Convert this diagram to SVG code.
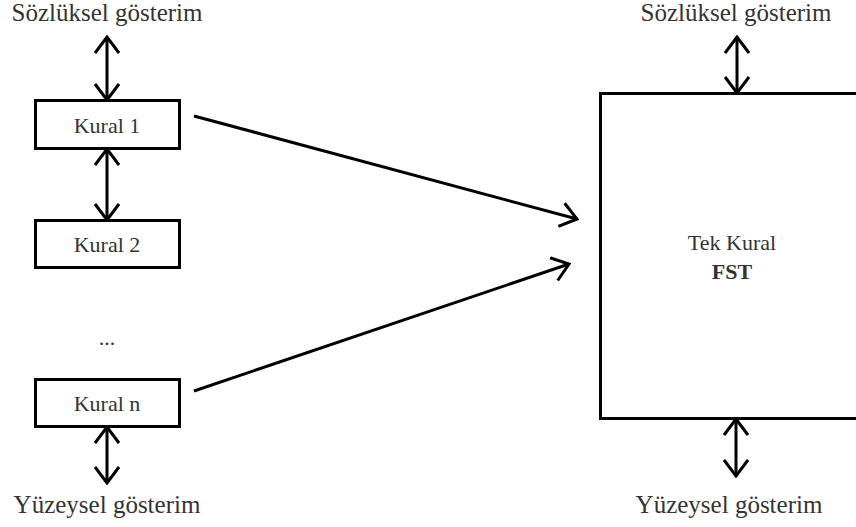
<svg xmlns="http://www.w3.org/2000/svg" width="856" height="527" viewBox="0 0 856 527">
  <style>
    .box { fill: #ffffff; stroke: #000000; stroke-width: 3; }
    .line { fill: none; stroke: #000000; stroke-width: 3; }
    .label { font-family: "Liberation Serif", "Times New Roman", serif; fill: #333333; text-anchor: middle; }
    .big { font-size: 25px; }
    .small { font-size: 22px; }
    .bold { font-weight: bold; }
  </style>
  <defs>
    <!-- open chevron arrowhead, used at both ends of the two-way links -->
    <marker id="chev" viewBox="0 0 20 26" refX="18" refY="13" markerWidth="20" markerHeight="26" markerUnits="userSpaceOnUse" orient="auto-start-reverse">
      <path d="M2,1 L18,13 L2,25" fill="none" stroke="#000" stroke-width="3"/>
    </marker>
  </defs>

  <!-- end-point labels -->
  <text class="label big" x="107" y="21">Sözlüksel gösterim</text>
  <text class="label big" x="736" y="21">Sözlüksel gösterim</text>
  <text class="label big" x="107" y="513">Yüzeysel gösterim</text>
  <text class="label big" x="729" y="513">Yüzeysel gösterim</text>

  <!-- rule cascade -->
  <g id="kural1">
    <rect class="box" x="35.5" y="100.5" width="144" height="48"/>
    <text class="label small" x="107" y="133">Kural 1</text>
  </g>
  <g id="kural2">
    <rect class="box" x="35.5" y="220.5" width="144" height="47"/>
    <text class="label small" x="107" y="252">Kural 2</text>
  </g>
  <g id="ellipsis">
    <text class="label small" x="107" y="345">...</text>
  </g>
  <g id="kuraln">
    <rect class="box" x="35.5" y="379.5" width="144" height="47"/>
    <text class="label small" x="107" y="411">Kural n</text>
  </g>

  <!-- single combined transducer -->
  <g id="fst">
    <rect class="box" x="600.5" y="93.5" width="270" height="325"/>
    <text class="label small" x="732" y="250">Tek Kural</text>
    <text class="label small bold" x="732" y="279">FST</text>
  </g>

  <g id="connectors">
    <line class="line" x1="107" y1="37" x2="107" y2="100" marker-start="url(#chev)" marker-end="url(#chev)"/>
    <line class="line" x1="107" y1="149" x2="107" y2="220" marker-start="url(#chev)" marker-end="url(#chev)"/>
    <line class="line" x1="107" y1="427" x2="107" y2="483" marker-start="url(#chev)" marker-end="url(#chev)"/>
    <line class="line" x1="737" y1="37" x2="737" y2="93" marker-start="url(#chev)" marker-end="url(#chev)"/>
    <line class="line" x1="736" y1="419" x2="736" y2="476" marker-start="url(#chev)" marker-end="url(#chev)"/>
    <line class="line" x1="194" y1="116" x2="577" y2="219" marker-end="url(#chev)"/>
    <line class="line" x1="194" y1="391" x2="569" y2="264" marker-end="url(#chev)"/>
  </g>
</svg>
